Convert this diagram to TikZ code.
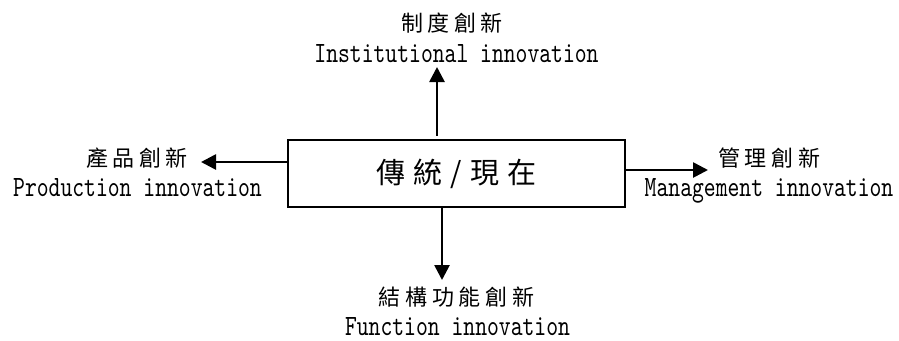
\documentclass[tikz,border=0pt]{standalone}
\usepackage{fontspec}
\newfontfamily\cjk{Noto Sans CJK TC}
\newfontfamily\lat[Extension=.otf, FakeStretch=0.765]{lmmono10-regular}
\usetikzlibrary{arrows.meta}
\newcommand\zg{\hspace{3.5pt}}
\newcommand\zG{\hspace{6pt}}
\begin{document}
\begin{tikzpicture}[x=0.75pt,y=-0.75pt,
  zh/.style={font=\cjk\fontsize{16.5pt}{18pt}\selectfont, inner sep=0pt, anchor=center},
  en/.style={font=\lat\fontsize{22.1pt}{24pt}\selectfont, inner sep=0pt, anchor=base},
  arr/.style={line width=2pt, -{Triangle[length=11.25pt,width=11.25pt]}},
  mainbox/.style={draw, line width=2pt, minimum width=252.75pt, minimum height=50.25pt, inner sep=0pt,
    font=\cjk\fontsize{21.75pt}{24pt}\selectfont}]
\useasboundingbox (0,0) rectangle (899,340);
\node[mainbox] (box) at (456.5,173.5) {傳\zG 統\zG/\zG 現\zG 在};
\node[zh] (t1) at (452,23.5) {制\zg 度\zg 創\zg 新};
\node[en] (t2) at (456.5,62) {Institutional innovation};
\node[zh] (l1) at (137,158) {產\zg 品\zg 創\zg 新};
\node[en] (l2) at (137.5,196) {Production innovation};
\node[zh] (r1) at (769,158) {管\zg 理\zg 創\zg 新};
\node[en] (r2) at (769,196) {Management innovation};
\node[zh] (b1) at (456.5,297) {結\zg 構\zg 功\zg 能\zg 創\zg 新};
\node[en] (b2) at (457.5,335) {Function innovation};
\coordinate (ut) at (437,67);
\coordinate (lt) at (201,162);
\coordinate (rt) at (708,170);
\coordinate (dt) at (442,280);
\draw[arr, shorten <=2.25pt] (box.north -| ut) -- (ut);
\draw[arr] (box.west |- lt) -- (lt);
\draw[arr] (box.east |- rt) -- (rt);
\draw[arr] (box.south -| dt) -- (dt);
\end{tikzpicture}
\end{document}
